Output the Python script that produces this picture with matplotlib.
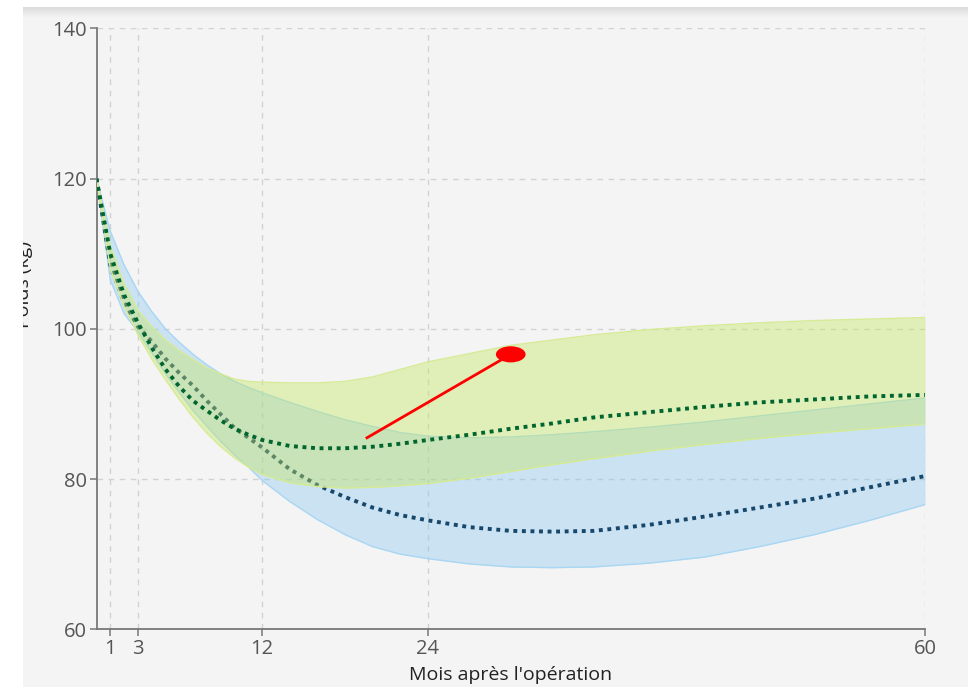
import numpy as np
import matplotlib
matplotlib.use("Agg")
import matplotlib.pyplot as plt
from matplotlib.patches import Rectangle, Ellipse

plt.rcParams['font.family'] = ['Open Sans', 'DejaVu Sans']

# months after surgery and weight curves (kg)
months = [0, 1, 2, 3, 4, 5, 6, 7, 8, 9, 10, 11, 12, 14, 16, 18, 20, 22, 24,
          27, 30, 33, 36, 40, 44, 48, 52, 56, 60]

green_mean = [120, 110, 104.5, 100.8, 97.5, 94.6, 92.3, 90.4, 89.1, 87.8, 86.7, 85.9, 85.2,
              84.4, 84.1, 84.1, 84.3, 84.7, 85.2, 85.9, 86.7, 87.4, 88.2, 88.9, 89.6,
              90.2, 90.6, 91.0, 91.2]
green_upper = [120, 111, 106, 102.5, 100.3, 98.5, 97.1, 95.9, 94.8, 94.0, 93.3, 93.0, 92.9,
               92.8, 92.8, 93.0, 93.6, 94.6, 95.6, 96.7, 97.8, 98.5, 99.2, 99.9, 100.4,
               100.8, 101.1, 101.3, 101.5]
green_lower = [120, 108, 103, 99.2, 96.0, 93.2, 90.6, 88.2, 86.1, 84.3, 82.8, 81.6, 80.6,
               79.5, 79.0, 78.8, 78.9, 79.1, 79.4, 80.1, 81.0, 81.9, 82.7, 83.7, 84.6,
               85.4, 86.1, 86.7, 87.3]

blue_mean = [120, 108.5, 103.5, 100.3, 98.3, 96.0, 94.1, 92.4, 90.4, 88.6, 86.8, 85.5, 84.2,
             81.3, 79.2, 77.6, 76.2, 75.2, 74.5, 73.6, 73.1, 73.0, 73.1, 73.9, 75.0,
             76.2, 77.4, 78.9, 80.4]
blue_upper = [120, 113, 108.5, 105, 102.3, 100, 98.2, 96.6, 95.2, 94.0, 93.0, 92.2, 91.5,
              90.2, 89.0, 87.9, 87.0, 86.2, 85.7, 85.5, 85.6, 85.9, 86.3, 86.9, 87.6,
              88.4, 89.2, 90.0, 90.8]
blue_lower = [120, 106.5, 102.0, 99.6, 96.8, 94.0, 91.5, 89.1, 87.0, 85.0, 83.2, 81.6, 79.8,
              77.0, 74.6, 72.6, 71.0, 70.0, 69.4, 68.7, 68.3, 68.2, 68.3, 68.8, 69.6,
              71.0, 72.6, 74.5, 76.6]

# patient measurement and the point it refers to on the curve
patient_month, patient_weight = 30, 96.6
ref_month, ref_weight = 19.5, 85.4

xticks = [1, 3, 12, 24, 60]
yticks = [60, 80, 100, 120, 140]

W, H = 968, 687
fig = plt.figure(figsize=(W / 100, H / 100), dpi=100)
fig.patch.set_facecolor('#f4f4f4')

ax = fig.add_axes([96.5 / W, 1 - 629.3 / H, 828.5 / W, 601 / H])
ax.set_facecolor('#f4f4f4')
ax.set_xlim(0, 60)
ax.set_ylim(60, 140)

ax.fill_between(months, blue_lower, blue_upper, color='#8bc9ef', alpha=0.4, lw=0, zorder=1)
ax.plot(months, blue_upper, color='#a9d6f2', lw=1, zorder=1.1)
ax.plot(months, blue_lower, color='#a9d6f2', lw=1, zorder=1.1)
ax.plot(months, blue_mean, color='#17476b', lw=2.8, ls=(0, (1, 1.2)),
        dash_capstyle='butt', zorder=2)

ax.fill_between(months, green_lower, green_upper, color='#c4e760', alpha=0.4, lw=0, zorder=3)
ax.plot(months, green_upper, color='#d6eb95', lw=1, zorder=3.1)
ax.plot(months, green_lower, color='#d6eb95', lw=1, zorder=3.1)
ax.plot(months, green_mean, color='#00652f', lw=2.8, ls=(0, (1, 1.2)),
        dash_capstyle='butt', zorder=4)

ax.plot([ref_month, patient_month], [ref_weight, patient_weight], color='#ff0000', lw=2,
        solid_capstyle='butt', zorder=5)
ax.add_patch(Ellipse((patient_month, patient_weight), 2.15, 2.15, color='#ff0000', lw=0, zorder=6))

ax.set_xticks(xticks)
ax.set_yticks(yticks)
ax.grid(True, color='#d2d2d2', lw=1, ls=(0, (4, 4)))
ax.set_axisbelow(True)
for side in ['top', 'right']:
    ax.spines[side].set_visible(False)
for side in ['left', 'bottom']:
    ax.spines[side].set_color('#777777')
    ax.spines[side].set_linewidth(1.3)
ax.tick_params(length=5, width=1.1, color='#777777', labelcolor='#555555',
               labelsize=14.5, pad=2)
ax.set_xlabel("Mois après l'opération", fontsize=14, color='#222222', labelpad=5)

# y label sits partly under the white margin
fig.text(33 / W, 1 - 285 / H, 'Poids (kg)', rotation=90, ha='right', va='center',
         fontsize=14, color='#222222')
fig.add_artist(Rectangle((0, 0), 23 / W, 1, transform=fig.transFigure,
                         facecolor='white', edgecolor='none', zorder=20))
fig.add_artist(Rectangle((0, 1 - 7 / H), 1, 7 / H, transform=fig.transFigure,
                         facecolor='white', edgecolor='none', zorder=20))

# soft shadow under the top edge
sh = fig.add_axes([23 / W, 1 - 18 / H, 1 - 23 / W, 11 / H])
grad = np.linspace(0.86, 0.957, 32).reshape(-1, 1)
sh.imshow(grad, cmap='gray', vmin=0, vmax=1, aspect='auto', interpolation='bilinear')
sh.axis('off')

fig.savefig('out.png', dpi=100, facecolor=fig.get_facecolor())
